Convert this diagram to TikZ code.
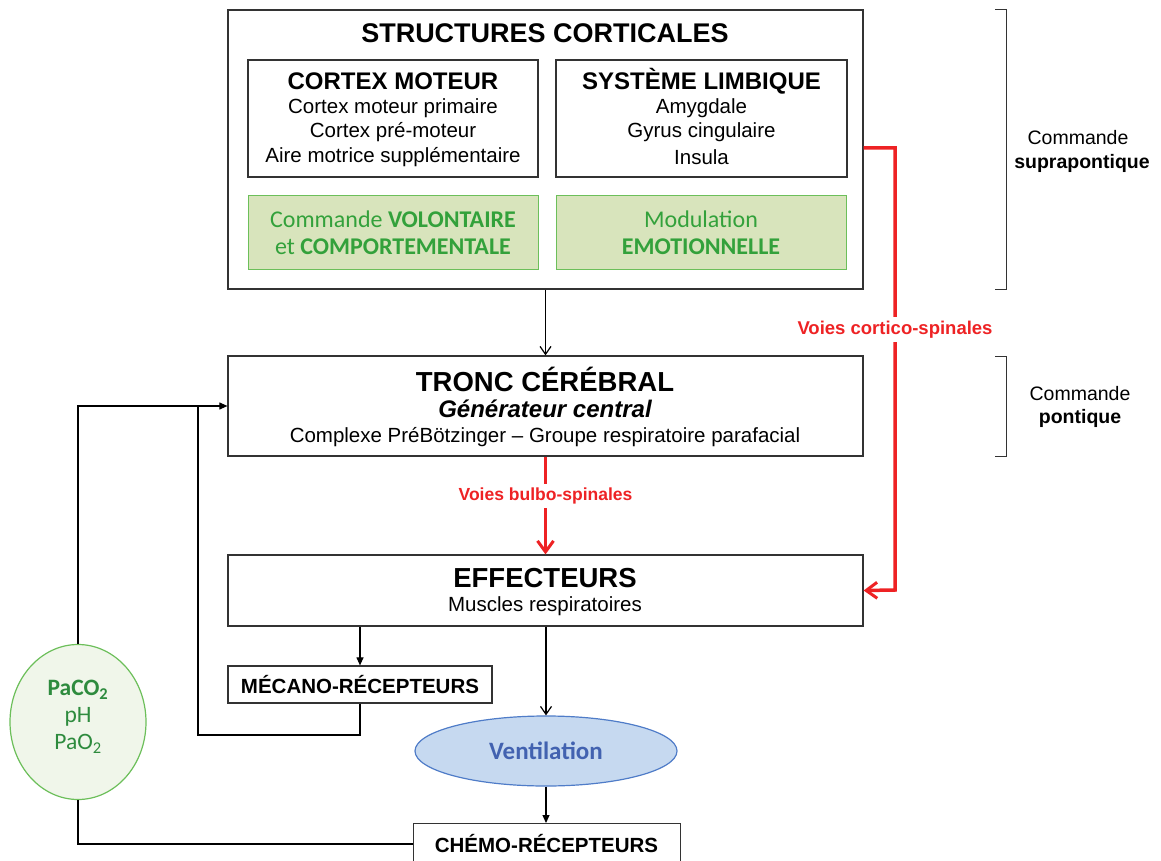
\documentclass[tikz,border=0pt]{standalone}
\usepackage{fontspec}
\setmainfont{Liberation Sans}
\newfontfamily\cali{Carlito}
\usetikzlibrary{arrows.meta,shapes.geometric}
\definecolor{gtext}{HTML}{33A13B}
\definecolor{gfill}{HTML}{D8E4BC}
\definecolor{gedge}{HTML}{6CBF5A}
\definecolor{dgreen}{HTML}{2E8B3E}
\definecolor{cfill}{HTML}{F0F6EA}
\definecolor{vred}{HTML}{EE2224}
\definecolor{vfill}{HTML}{C6D9F0}
\definecolor{vedge}{HTML}{4F7CC8}
\definecolor{vtext}{HTML}{4262B0}
\begin{document}
\begin{tikzpicture}[x=1pt,y=-1pt,
  box/.style={draw=black!80,line width=1.2pt,inner sep=0pt},
  gbox/.style={draw=gedge,fill=gfill,line width=1pt,inner sep=0pt},
  txt/.style={inner sep=0pt,anchor=center},
  body/.style={txt,font=\fontsize{20.5}{20.5}\selectfont},
  gtx/.style={txt,font=\cali\fontsize{24}{24}\selectfont,text=gtext},
  conn/.style={draw=black,line width=1.1pt},
  redl/.style={draw=vred,line width=3.5pt},
  vtip/.style={-{Straight Barb[length=8pt,width=11pt,line width=1.2pt]}},
  ttip/.style={-{Triangle[length=8pt,width=7pt]}},
  rtip/.style={-{Straight Barb[length=11pt,width=16pt,line width=3pt]}},
]
\useasboundingbox (0,0) rectangle (1161,861);
% cortical structures
\node[box,minimum width=635pt,minimum height=279pt] (sc) at (545.5,149.5) {};
\node[txt,font=\fontsize{27}{27}\selectfont\bfseries] (sct) at (545,33) {STRUCTURES CORTICALES};
\node[box,minimum width=290pt,minimum height=117pt] (cm) at (393,118.5) {};
\node[txt,font=\fontsize{24}{24}\selectfont\bfseries] (cmt) at (393,81) {CORTEX MOTEUR};
\node[body] (cm1) at (393,108) {Cortex moteur primaire};
\node[body] (cm2) at (393,132) {Cortex pré-moteur};
\node[body] (cm3) at (393,157) {Aire motrice supplémentaire};
\node[box,minimum width=291pt,minimum height=117pt] (sl) at (701.5,118.5) {};
\node[txt,font=\fontsize{24}{24}\selectfont\bfseries] (slt) at (701.5,81) {SYSTÈME LIMBIQUE};
\node[body] (sl1) at (701.5,108) {Amygdale};
\node[body] (sl2) at (701.5,132) {Gyrus cingulaire};
\node[body] (sl3) at (701.5,157) {Insula};
\node[gbox,minimum width=290pt,minimum height=73pt] (g1) at (393,232.5) {};
\node[gtx] (g1a) at (393,219) {Commande \textbf{VOLONTAIRE}};
\node[gtx] (g1b) at (393,247) {et \textbf{COMPORTEMENTALE}};
\node[gbox,minimum width=290pt,minimum height=73pt] (g2) at (701,232.5) {};
\node[gtx] (g2a) at (701,219) {Modulation};
\node[gtx,font=\cali\fontsize{24}{24}\selectfont\bfseries] (g2b) at (701,247) {EMOTIONNELLE};
% brackets
\draw[line width=1pt,black!80] (995,10) -- (1006,10) -- (1006,289) -- (995,289);
\node[txt,font=\fontsize{19.5}{19.5}\selectfont] (c1a) at (1078,138) {Commande};
\node[txt,font=\fontsize{19.5}{19.5}\selectfont\bfseries] (c1b) at (1082,163) {suprapontique};
\draw[line width=1pt,black!80] (995,356) -- (1006,356) -- (1006,456) -- (995,456);
\node[txt,font=\fontsize{19.5}{19.5}\selectfont] (c2a) at (1080,394) {Commande};
\node[txt,font=\fontsize{19.5}{19.5}\selectfont\bfseries] (c2b) at (1080,418) {pontique};
% tronc cerebral
\node[box,minimum width=635pt,minimum height=100pt] (tc) at (545.5,406) {};
\node[txt,font=\fontsize{27.5}{27.5}\selectfont\bfseries] (tct) at (545,379) {TRONC CÉRÉBRAL};
\node[txt,font=\fontsize{24}{24}\selectfont\bfseries\itshape] (tc1) at (545,409) {Générateur central};
\node[body] (tc2) at (545,437) {Complexe PréBötzinger – Groupe respiratoire parafacial};
% effecteurs
\node[box,minimum width=635pt,minimum height=71pt] (ef) at (545.5,590.5) {};
\node[txt,font=\fontsize{27.5}{27.5}\selectfont\bfseries] (eft) at (545,578) {EFFECTEURS};
\node[body] (ef1) at (545,606) {Muscles respiratoires};
% mecano
\node[box,minimum width=264pt,minimum height=37pt,font=\fontsize{20.5}{20.5}\selectfont\bfseries] (mr) at (360,684.5) {MÉCANO-RÉCEPTEURS};
% ventilation
\node[ellipse,draw=vedge,fill=vfill,line width=1.2pt,minimum width=262pt,minimum height=70pt,inner sep=0pt,font=\cali\fontsize{25}{25}\selectfont\bfseries,text=vtext] (ve) at (546,751) {Ventilation};
% chemo
\node[box,minimum width=267pt,minimum height=50pt,anchor=north west] (ch) at (413,823) {};
\node[txt,font=\fontsize{20.5}{20.5}\selectfont\bfseries] (cht) at (546.5,844) {CHÉMO-RÉCEPTEURS};
% gas circle
\node[ellipse,draw=gedge,fill=cfill,line width=1.2pt,minimum width=136pt,minimum height=155pt,inner sep=0pt] (gc) at (78,722) {};
\node[txt,font=\cali\fontsize{23.5}{23.5}\selectfont\bfseries,text=dgreen] (gc1) at (78,690) {PaCO\textsubscript{2}};
\node[txt,font=\cali\fontsize{23.5}{23.5}\selectfont,text=dgreen] (gc2) at (78,717) {pH};
\node[txt,font=\cali\fontsize{23.5}{23.5}\selectfont,text=dgreen] (gc3) at (78,744) {PaO\textsubscript{2}};
% connectors
\coordinate (jl) at (198,405);
\draw[conn,vtip] (sc.south) -- (tc.north);
\draw[conn,ttip] (gc.north) |- (tc.west);
\draw[conn] (mr.south) |- (198,735) -- (jl);
\draw[conn,ttip] (ef.south -| mr.north) -- (mr.north);
\draw[conn,vtip] (ef.south -| ve.north) -- (ve.north);
\draw[conn,ttip] (ve.south) -- (ch.north -| ve.south);
\draw[conn] (gc.south) |- (ch.west |- cht);
% red pathways
\draw[redl,rtip] (tc.south) -- node[fill=white,inner sep=4pt,text=vred,font=\fontsize{17.5}{17.5}\selectfont\bfseries,pos=0.4] (vbs) {Voies bulbo-spinales} (ef.north);
\coordinate (rc) at (895,148);
\draw[redl,rtip] (sc.east |- rc) -- (rc) -- node[fill=white,inner sep=4pt,text=vred,font=\fontsize{18.5}{18.5}\selectfont\bfseries,pos=0.41] (vcs) {Voies cortico-spinales} (895,590) -- (ef.east);
\end{tikzpicture}
\end{document}
